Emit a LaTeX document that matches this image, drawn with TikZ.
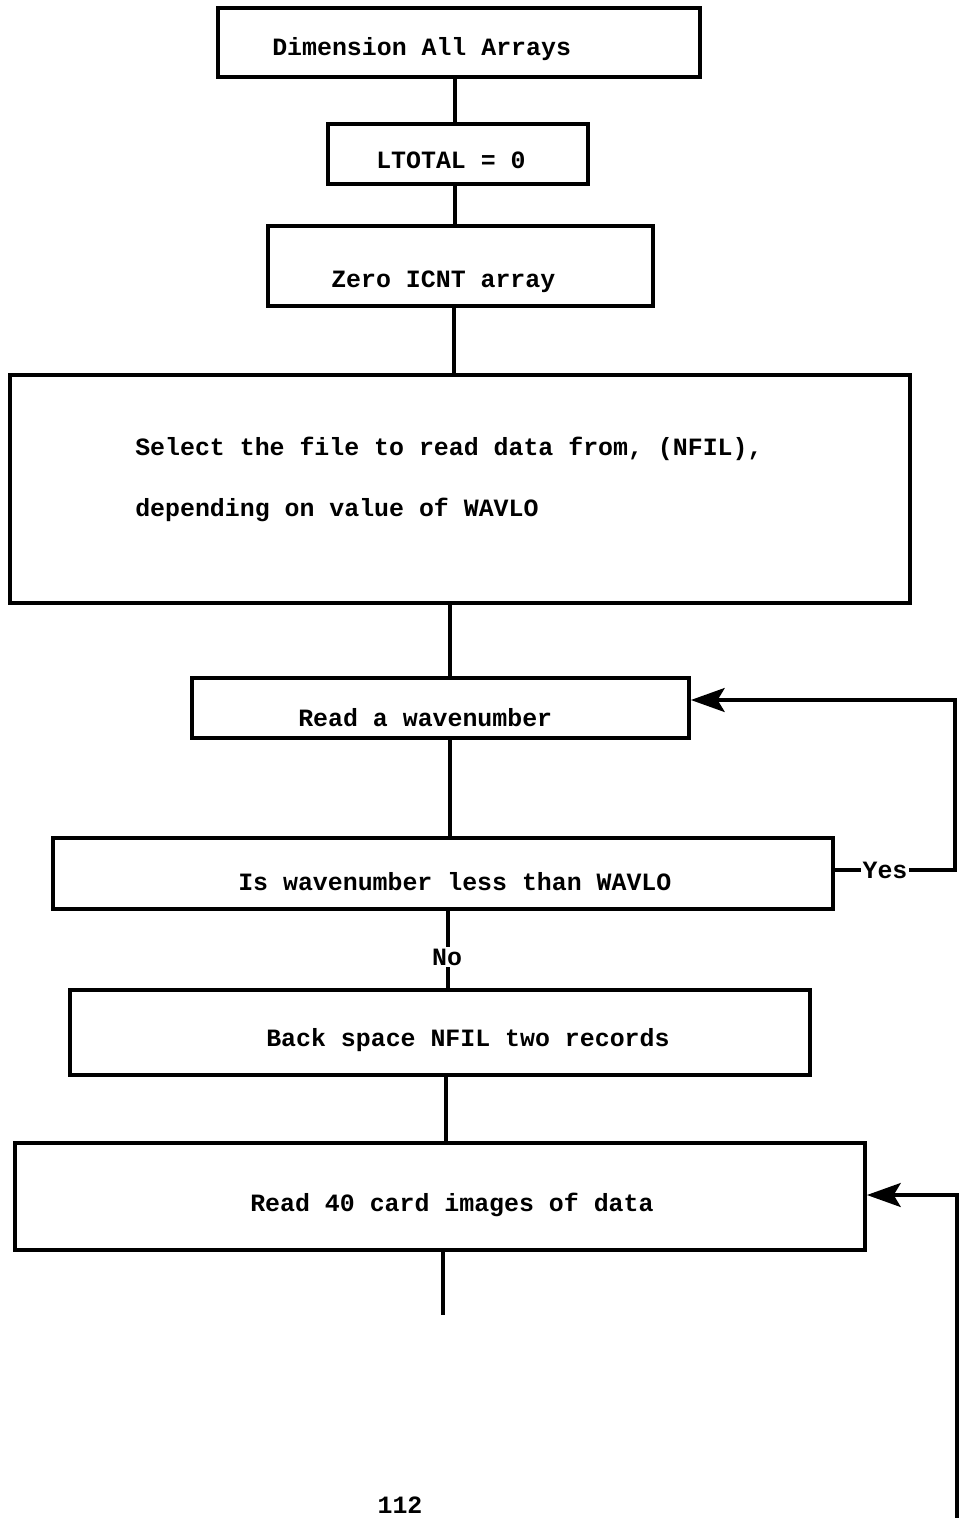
\documentclass[tikz,border=0pt]{standalone}
\usepackage{fontspec}
\setmainfont{Liberation Mono}
\usetikzlibrary{arrows.meta}
\tikzset{
  box/.style={draw, line width=2.6pt, rectangle, inner sep=0pt},
  txt/.style={anchor=west, inner sep=0pt, font=\fontsize{17.7}{20}\selectfont\bfseries},
  conn/.style={line width=2.6pt},
  bigarrow/.style={-{Stealth[length=24pt,width=17pt,inset=5pt]}},
  lbl/.style={fill=white, inner sep=1pt, font=\fontsize{17.7}{20}\selectfont\bfseries}
}
\begin{document}
\begin{tikzpicture}[x=0.025cm, y=-0.025cm]
\useasboundingbox (0,0) rectangle (962,1518);
\fill[white] (0,0) rectangle (962,1518);

\node[box, minimum width=12.05cm, minimum height=1.725cm] (b1) at (459,42.5) {};
\node[box, minimum width=6.5cm, minimum height=1.5cm] (b2) at (458,154) {};
\node[box, minimum width=9.625cm, minimum height=2cm] (b3) at (460.5,266) {};
\node[box, minimum width=22.5cm, minimum height=5.7cm] (b4) at (460,489) {};
\node[box, minimum width=12.425cm, minimum height=1.5cm] (b5) at (440.5,708) {};
\node[box, minimum width=19.5cm, minimum height=1.775cm] (b6) at (443,873.5) {};
\node[box, minimum width=18.5cm, minimum height=2.125cm] (b7) at (440,1032.5) {};
\node[box, minimum width=21.25cm, minimum height=2.675cm] (b8) at (440,1196.5) {};

\node[txt] (t1) at (272,49) {Dimension All Arrays};
\node[txt] (t2) at (376,160) {LTOTAL = 0};
\node[txt] (t3) at (331,282) {Zero ICNT array};
\node[txt] (t4a) at (135,449) {Select the file to read data from, (NFIL),};
\node[txt] (t4b) at (135,510) {depending on value of WAVLO};
\node[txt] (t5) at (298,718) {Read a wavenumber};
\node[txt] (t6) at (238,882) {Is wavenumber less than WAVLO};
\node[txt] (t7) at (266,1040) {Back space NFIL two records};
\node[txt] (t8) at (250,1205) {Read 40 card images of data};

\draw[conn] (455,0 |- b1.south) -- (455,0 |- b2.north);
\draw[conn] (455,0 |- b2.south) -- (455,0 |- b3.north);
\draw[conn] (454,0 |- b3.south) -- (454,0 |- b4.north);
\draw[conn] (450,0 |- b4.south) -- (450,0 |- b5.north);
\draw[conn] (450,0 |- b5.south) -- (450,0 |- b6.north);
\draw[conn] (448,0 |- b6.south) -- (448,0 |- b7.north);
\node[lbl] (no) at (447,957) {No};
\draw[conn] (446,0 |- b7.south) -- (446,0 |- b8.north);
\coordinate (tail) at (443,1315);
\draw[conn] (443,0 |- b8.south) -- (tail);

\draw[conn, bigarrow] (833,870) -- (955,870) |- (b5.east |- 0,700);
\node[lbl] (yes) at (885,870) {Yes};

\coordinate (loopend) at (957,1518);
\draw[conn, bigarrow] (loopend) |- (b8.east |- 0,1195);

\node[lbl] (page) at (400,1505) {112};
\end{tikzpicture}
\end{document}
